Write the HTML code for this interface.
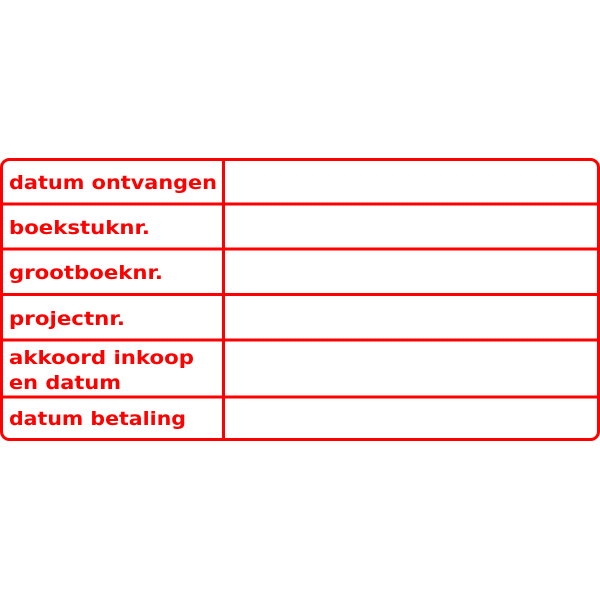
<!DOCTYPE html>
<html><head><style>body{margin:0;background:#fff}</style></head><body>
<svg width="600" height="600" xmlns="http://www.w3.org/2000/svg">
<g fill="none" stroke="#ff0000" stroke-width="3">
<rect x="1.5" y="159.5" width="597" height="280" rx="8"/>
<line x1="223.5" y1="159" x2="223.5" y2="440"/>
<line x1="1" y1="204" x2="599" y2="204"/>
<line x1="1" y1="249" x2="599" y2="249"/>
<line x1="1" y1="294.5" x2="599" y2="294.5"/>
<line x1="1" y1="340" x2="599" y2="340"/>
<line x1="1" y1="397" x2="599" y2="397"/>
</g>
<g fill="#ff0000" font-family="DejaVu Sans, sans-serif" font-weight="bold" font-size="19" lengthAdjust="spacingAndGlyphs">
<text x="9" y="189" textLength="208" lengthAdjust="spacingAndGlyphs">datum ontvangen</text>
<text x="9" y="234" textLength="141" lengthAdjust="spacingAndGlyphs">boekstuknr.</text>
<text x="9" y="279" textLength="154" lengthAdjust="spacingAndGlyphs">grootboeknr.</text>
<text x="9" y="325" textLength="116" lengthAdjust="spacingAndGlyphs">projectnr.</text>
<text x="9" y="364" textLength="185" lengthAdjust="spacingAndGlyphs">akkoord inkoop</text>
<text x="9" y="389" textLength="112" lengthAdjust="spacingAndGlyphs">en datum</text>
<text x="9" y="425" textLength="177" lengthAdjust="spacingAndGlyphs">datum betaling</text>
</g>
</svg>
</body></html>
